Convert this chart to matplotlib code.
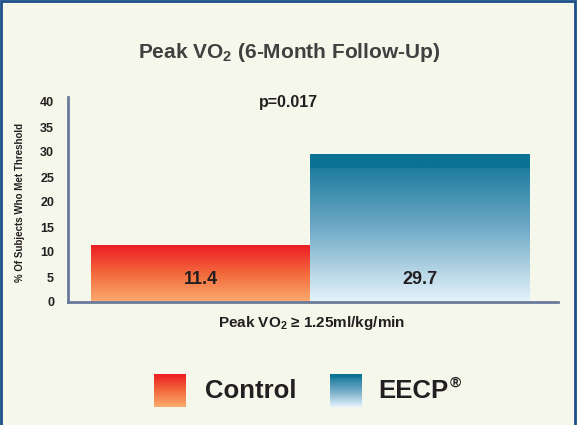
import numpy as np
import matplotlib
matplotlib.use("Agg")
from matplotlib import pyplot as plt
from matplotlib.colors import LinearSegmentedColormap
from matplotlib.patches import Rectangle

plt.rcParams['font.family'] = ['Liberation Sans', 'DejaVu Sans']
plt.rcParams['mathtext.fontset'] = 'custom'
plt.rcParams['mathtext.rm'] = 'Liberation Sans'
plt.rcParams['mathtext.bf'] = 'Liberation Sans:bold'

groups = ['Control', 'EECP®']
values = [11.4, 29.7]
value_labels = ['11.4', '29.7']
yticks = [0, 5, 10, 15, 20, 25, 30, 35, 40]

bg = '#f5f7ea'
red_cmap = LinearSegmentedColormap.from_list('red', ['#fbab6e', '#f26a3c', '#ec1c24'])
blue_cmap = LinearSegmentedColormap.from_list(
    'blue', [(0, '#e6f4fb'), (0.5, '#6fa9c6'), (0.9, '#1f7d9e'), (0.901, '#0a7294'), (1, '#0a7294')])
cmaps = [red_cmap, blue_cmap]

fig = plt.figure(figsize=(5.77, 4.25), dpi=100)
fig.patch.set_facecolor(bg)

ax = fig.add_axes([68 / 577, 1 - 302 / 425, 490 / 577, 205 / 425])
ax.set_facecolor(bg)

grad = np.linspace(0, 1, 256).reshape(-1, 1)
bars = ax.bar(range(len(values)), values, width=1.0, color='none', edgecolor='none')
for bar, cm in zip(bars, cmaps):
    x0, w, h = bar.get_x(), bar.get_width(), bar.get_height()
    im = ax.imshow(grad, cmap=cm, origin='lower', aspect='auto',
                   extent=[x0, x0 + w, 0, h], zorder=1)
    im.set_clip_path(bar)
ax.set_xlim(-0.605, 1.632)
ax.set_ylim(0, 41)

for i, lab in enumerate(value_labels):
    ax.text(i, 4.6, lab, ha='center', va='center', fontsize=13,
            fontweight='bold', color='#231f20')

for s in ['top', 'right']:
    ax.spines[s].set_visible(False)
for s in ['left', 'bottom']:
    ax.spines[s].set_color('#6a7a9a')
    ax.spines[s].set_linewidth(2)
ax.set_xticks([])
ax.set_yticks(yticks)
ax.set_yticklabels([str(t) for t in yticks], fontsize=9, fontweight='bold', color='#231f20')
ax.tick_params(axis='y', length=0, pad=10)

fig.text(20 / 577, 1 - 202 / 425, '% Of Subjects Who Met Threshold', rotation=90,
         ha='center', va='center', fontsize=7, fontweight='bold', color='#231f20')

fig.text(289 / 577, 1 - 52 / 425, r'Peak VO$_{\mathbf{2}}$ (6-Month Follow-Up)', ha='center', va='center',
         fontsize=15, fontweight='bold', color='#404040')
fig.text(288 / 577, 1 - 103 / 425, 'p=0.017', ha='center', va='center',
         fontsize=11.5, fontweight='bold', color='#231f20')
fig.text(312 / 577, 1 - 323 / 425, r'Peak VO$_{\mathbf{2}}$ ≥ 1.25ml/kg/min', ha='center', va='center',
         fontsize=11, fontweight='bold', color='#231f20')

# legend
leg_x = [154, 330]
text_x = [205, 378]
renderer = fig.canvas.get_renderer()
for lx, tx, name, cm in zip(leg_x, text_x, groups, cmaps):
    lax = fig.add_axes([lx / 577, 1 - 407 / 425, 32 / 577, 33 / 425])
    lax.imshow(grad, cmap=cm, origin='lower', aspect='auto', extent=[0, 1, 0, 1])
    lax.axis('off')
    main = name.rstrip('®')
    t = fig.text(tx / 577, 1 - 391 / 425, main, ha='left', va='center',
                 fontsize=18.5, fontweight='bold', color='#231f20')
    if name.endswith('®'):
        bb = t.get_window_extent(renderer)
        fig.text(bb.x1 / 577 + 0.002, 1 - 383 / 425, '®', ha='left', va='center',
                 fontsize=11, fontweight='bold', color='#231f20')

# frame
fig.add_artist(Rectangle((0.002, -0.01), 0.995, 1.007, transform=fig.transFigure,
                         fill=False, edgecolor='#1b4f8a', linewidth=2))

fig.savefig('out.png', dpi=100, facecolor=bg)
